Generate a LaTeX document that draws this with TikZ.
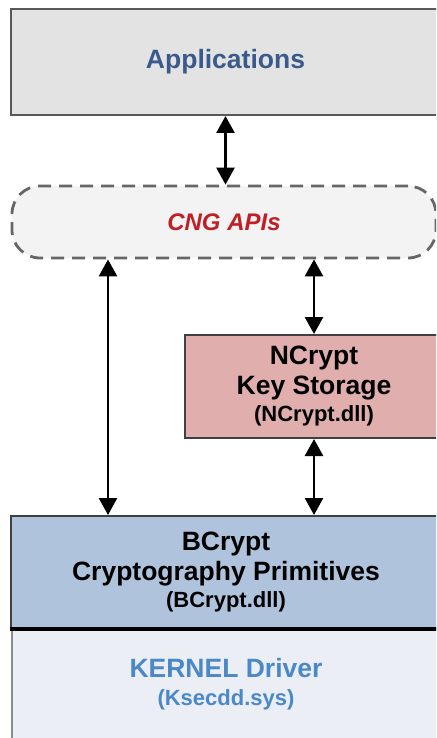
\documentclass[tikz,border=0pt]{standalone}
\usepackage{fontspec}
\setmainfont{Liberation Sans}
\usepackage{tikz}
\usetikzlibrary{arrows.meta}
\definecolor{appfill}{HTML}{E3E3E3}
\definecolor{apptext}{HTML}{3A5A8C}
\definecolor{cngfill}{HTML}{F3F3F3}
\definecolor{cngtext}{HTML}{BE2026}
\definecolor{nfill}{HTML}{E0AEAC}
\definecolor{bfill}{HTML}{B0C3DC}
\definecolor{kfill}{HTML}{EBEEF4}
\definecolor{ktext}{HTML}{4A88C8}

\begin{document}
\begin{tikzpicture}[x=1pt, y=-1pt,
    layer/.style = {draw, rectangle, line width=2pt, align=center, inner sep=0pt},
    big/.style = {font=\fontsize{26.5}{30}\selectfont\bfseries},
    arr/.style = {line width=2.6pt, {Triangle[width=18pt,length=17pt]}-{Triangle[width=18pt,length=17pt]}}]
  \clip (0,0) rectangle (436,738);
  \fill[white] (0,0) rectangle (436,738);
  \begin{scope}[nodes = layer]
    \node[fill=appfill, draw=black!65, minimum width=429pt, minimum height=106pt, big, text=apptext]
      (apps) at (225.5,62) {Applications};
    \node[fill=cngfill, draw=black!60, dash pattern=on 13pt off 8pt, line width=2.8pt,
      rounded corners=28pt, minimum width=424pt, minimum height=72pt, text=cngtext,
      font=\fontsize{24}{29}\selectfont\bfseries\itshape]
      (cng) at (224,222) {CNG APIs};
    \node[fill=nfill, draw=black!75, minimum width=258pt, minimum height=103pt, big]
      (ncrypt) at (314,386.5) {NCrypt\\Key Storage\\[-3pt]{\fontsize{22}{25}\selectfont (NCrypt.dll)}};
    \node[fill=bfill, draw=black!75, minimum width=430pt, minimum height=112pt, big]
      (bcrypt) at (226,572) {BCrypt\\Cryptography Primitives\\[-3pt]{\fontsize{22}{25}\selectfont (BCrypt.dll)}};
    \node[fill=kfill, draw=black!45, minimum width=428pt, minimum height=109pt, big, text=ktext,
      anchor=north]
      (kernel) at (bcrypt.south) {KERNEL Driver\\[-2pt]{\fontsize{22}{25}\selectfont (Ksecdd.sys)}};
  \end{scope}
  \draw[line width=3.5pt] (bcrypt.south west) -- (bcrypt.south east);
  \coordinate (left) at (108,0);
  \begin{scope}[arr]
    \draw (apps.south) -- (apps.south |- cng.north);
    \draw (left |- cng.south) -- (left |- bcrypt.north);
    \draw (ncrypt.north |- cng.south) -- (ncrypt.north);
    \draw (ncrypt.south) -- (ncrypt.south |- bcrypt.north);
  \end{scope}
\end{tikzpicture}
\end{document}
